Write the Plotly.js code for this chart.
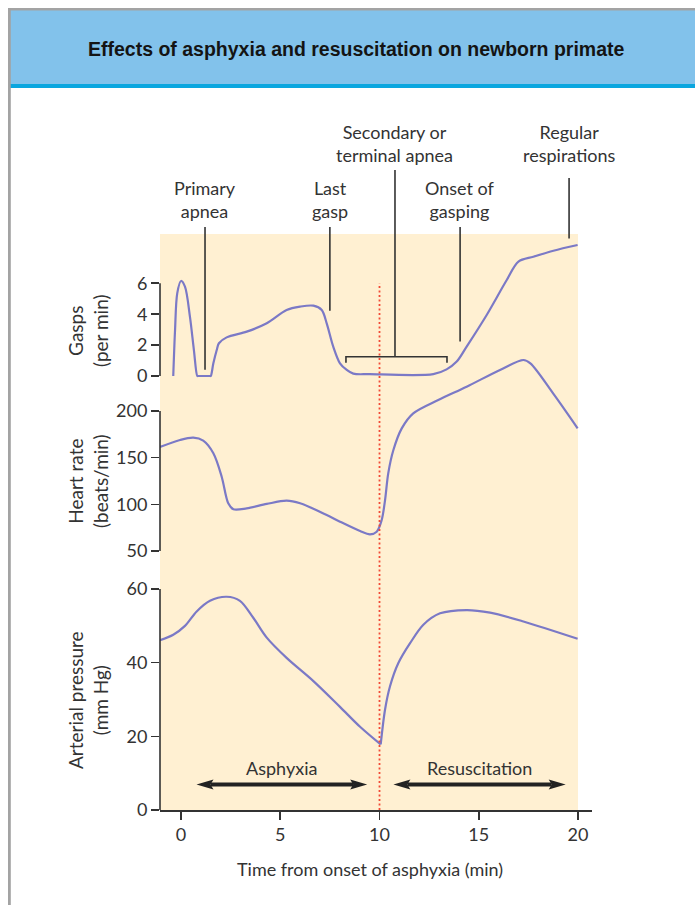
<!DOCTYPE html>
<html><head><meta charset="utf-8">
<script src="https://cdn.plot.ly/plotly-3.0.1.min.js"></script>
<style>html,body{margin:0;padding:0;background:#fff}#chart{width:695px;height:905px}</style>
</head><body><div id="chart"></div>
<script>
// ---------- data ----------
const timeTicks = [0, 5, 10, 15, 20];
const gaspTicks = [0, 2, 4, 6];
const hrTicks = [50, 100, 150, 200];
const bpTicks = [0, 20, 40, 60];

const gaspTime = [-0.39, -0.30, -0.19, 0.0, 0.2, 0.45, 0.65, 0.82, 0.86, 1.46, 1.5, 1.63, 1.8, 1.91, 2.3, 3.31, 4.32, 5.32, 6.0, 6.67, 7.09, 7.34, 7.67, 8.01, 8.35, 8.68, 9.5, 12.71, 13.38, 13.89, 14.39, 15.4, 16.41, 17.0, 17.75, 18.76, 19.98];
const gaspRate = [0, 2.98, 5.35, 6.15, 5.78, 3.84, 1.68, 0, 0, 0, 0, 0.82, 1.68, 2.12, 2.5, 2.87, 3.41, 4.27, 4.49, 4.55, 4.27, 3.41, 1.9, 0.82, 0.39, 0.15, 0.12, 0.12, 0.43, 0.93, 1.9, 3.95, 6.21, 7.4, 7.72, 8.11, 8.48];

const hrTime = [-1.06, -0.05, 0.62, 1.12, 1.63, 2.05, 2.38, 2.64, 3.31, 4.32, 5.32, 6.0, 7.34, 8.01, 9.02, 9.52, 9.86, 10.11, 10.28, 10.44, 10.7, 11.12, 11.7, 12.96, 14.39, 16.07, 17.25, 17.6, 18.8, 19.98];
const hrValue = [161.4, 168.9, 171.4, 168.2, 154.7, 129.6, 101.1, 94.7, 95.7, 100.4, 103.9, 101.1, 88.6, 81.4, 71.4, 67.9, 70.7, 83.2, 104.6, 133.2, 158.2, 181.4, 197.5, 211.8, 226, 244, 254.6, 251, 217.2, 181.4];

const bpTime = [-1.06, -0.39, 0.2, 0.79, 1.46, 2.3, 2.97, 3.64, 4.32, 5.32, 6.67, 8.01, 9.02, 10.06, 10.28, 10.53, 10.95, 11.54, 12.21, 13.05, 14.39, 15.57, 17.25, 19.98];
const bpValue = [46.1, 47.6, 50.0, 53.9, 56.8, 57.9, 56.8, 52.2, 46.8, 41.3, 35.0, 28.0, 22.6, 17.8, 27.3, 33.6, 39.9, 45.3, 50.3, 53.4, 54.3, 53.6, 51.2, 46.5];
const resuscitationStart = 10.06;

// callouts above the gasp panel (x in minutes, y in gasp units)
const calloutLabels = ['Primary<br>apnea', 'Last<br>gasp', 'Secondary or<br>terminal apnea', 'Onset of<br>gasping', 'Regular<br>respirations'];
const calloutX = [1.21, 7.5, 10.78, 14.06, 19.55];
const calloutTextY = [11.42, 11.42, 15.05, 11.42, 15.05];
const calloutTop = [9.64, 9.64, 13.33, 9.64, 12.82];
const calloutBottom = [0.4, 4.22, 1.25, 2.24, 8.9];
const bracketFrom = 8.31, bracketTo = 13.4, bracketY = 1.25, bracketEnd = 0.86;

const phaseLabels = ['Asphyxia', 'Resuscitation'];
const phaseFrom = [0.78, 10.7];
const phaseTo = [9.38, 19.38];

// ---------- layout geometry ----------
const W = 695, H = 905;
const M = {l: 160, r: 103, t: 234, b: 95};
const PW = W - M.l - M.r, PH = H - M.t - M.b;
const xRange = [-1.058, 20.705];
const gDom = [0.7257, 1], gRange = [-1.036, 9.19];
const hDom = [0.4132, 0.8160], hRange = [27.5, 276.07];
const bDom = [0, 0.4097], bRange = [0, 64.08];

const xp = v => (v - xRange[0]) / (xRange[1] - xRange[0]);
const yp = (v, dom, rng) => dom[0] + (v - rng[0]) / (rng[1] - rng[0]) * (dom[1] - dom[0]);
const gp = v => yp(v, gDom, gRange);
const hp = v => yp(v, hDom, hRange);
const bp = v => yp(v, bDom, bRange);
const pxX = px => (px - M.l) / PW;      // page pixel -> paper
const pxY = py => (H - M.b - py) / PH;

const TXT = '#333333';
const LINE = '#7B79C6';
const FONT = 'Lato, "Noto Sans", sans-serif';
const FS = 18;

const lineStyle = {color: LINE, width: 2.2, shape: 'spline', smoothing: 0.9};
const idxA = bpTime.map((t, i) => i).filter(i => bpTime[i] <= resuscitationStart);
const idxB = bpTime.map((t, i) => i).filter(i => bpTime[i] >= resuscitationStart);

const traces = [
  {x: gaspTime, y: gaspRate, xaxis: 'x', yaxis: 'y', mode: 'lines', line: lineStyle, hoverinfo: 'skip'},
  {x: hrTime, y: hrValue, xaxis: 'x', yaxis: 'y2', mode: 'lines', line: lineStyle, hoverinfo: 'skip'},
  {x: idxA.map(i => bpTime[i]), y: idxA.map(i => bpValue[i]), xaxis: 'x', yaxis: 'y3', mode: 'lines', line: lineStyle, hoverinfo: 'skip'},
  {x: idxB.map(i => bpTime[i]), y: idxB.map(i => bpValue[i]), xaxis: 'x', yaxis: 'y3', mode: 'lines', line: lineStyle, hoverinfo: 'skip'}
];

const shapes = [];
const annotations = [];
// page frame & header
shapes.push({type: 'rect', xref: 'paper', yref: 'paper', x0: pxX(10), x1: pxX(700), y0: pxY(84), y1: pxY(10), fillcolor: '#82C2EB', line: {width: 0}, layer: 'below'});
shapes.push({type: 'rect', xref: 'paper', yref: 'paper', x0: pxX(10), x1: pxX(700), y0: pxY(88), y1: pxY(84), fillcolor: '#0AA6DF', line: {width: 0}, layer: 'below'});
shapes.push({type: 'rect', xref: 'paper', yref: 'paper', x0: pxX(8), x1: pxX(700), y0: pxY(10.5), y1: pxY(8), fillcolor: '#A3A3A3', line: {width: 0}, layer: 'below'});
shapes.push({type: 'rect', xref: 'paper', yref: 'paper', x0: pxX(8), x1: pxX(10.8), y0: pxY(910), y1: pxY(8), fillcolor: '#A3A3A3', line: {width: 0}, layer: 'below'});
// cream panel
shapes.push({type: 'rect', xref: 'paper', yref: 'paper', x0: 0, x1: xp(20), y0: 0, y1: 1, fillcolor: '#FFF0D2', line: {width: 0}, layer: 'below'});
// y axis line segments
[[gp(gaspTicks[0]), gp(gaspTicks[gaspTicks.length - 1])], [hp(hrTicks[0]), hp(hrTicks[hrTicks.length - 1])], [bp(bpTicks[0]), bp(bpTicks[bpTicks.length - 1])]].forEach(s => {
  shapes.push({type: 'line', xref: 'paper', yref: 'paper', x0: 0, x1: 0, y0: s[0], y1: s[1], line: {color: TXT, width: 1.6}});
});
// red dotted line at start of resuscitation
shapes.push({type: 'line', xref: 'paper', yref: 'paper', x0: xp(10), x1: xp(10), y0: 0, y1: gp(6), line: {color: '#F24A36', width: 1.8, dash: '2px,2.5px'}});
// callouts
calloutLabels.forEach((t, i) => {
  shapes.push({type: 'line', xref: 'paper', yref: 'paper', x0: xp(calloutX[i]), x1: xp(calloutX[i]), y0: gp(calloutBottom[i]), y1: gp(calloutTop[i]), line: {color: TXT, width: 1.6}});
  annotations.push({xref: 'paper', yref: 'paper', x: xp(calloutX[i]), y: gp(calloutTextY[i]), text: t, showarrow: false, xanchor: 'center', yanchor: 'middle', font: {family: FONT, size: FS, color: TXT}});
});
shapes.push({type: 'path', xref: 'paper', yref: 'paper',
  path: `M${xp(bracketFrom)},${gp(bracketEnd)} L${xp(bracketFrom)},${gp(bracketY)} L${xp(bracketTo)},${gp(bracketY)} L${xp(bracketTo)},${gp(bracketEnd)}`,
  line: {color: TXT, width: 1.6}});
// phase arrows
const arrowY = pxY(784.5);
phaseLabels.forEach((t, i) => {
  const a = xp(phaseFrom[i]), b = xp(phaseTo[i]);
  const hl = 17 / PW, hh = 5 / PH, notch = 3 / PW;
  shapes.push({type: 'line', xref: 'paper', yref: 'paper', x0: a + hl - notch, x1: b - hl + notch, y0: arrowY, y1: arrowY, line: {color: '#222', width: 4}});
  shapes.push({type: 'path', xref: 'paper', yref: 'paper', fillcolor: '#222', line: {width: 0},
    path: `M${a},${arrowY} L${a + hl},${arrowY + hh} L${a + hl - notch},${arrowY} L${a + hl},${arrowY - hh} Z`});
  shapes.push({type: 'path', xref: 'paper', yref: 'paper', fillcolor: '#222', line: {width: 0},
    path: `M${b},${arrowY} L${b - hl},${arrowY + hh} L${b - hl + notch},${arrowY} L${b - hl},${arrowY - hh} Z`});
  annotations.push({xref: 'paper', yref: 'paper', x: (a + b) / 2, y: pxY(768), text: t, showarrow: false, xanchor: 'center', yanchor: 'middle', font: {family: FONT, size: FS, color: TXT}});
});
// header title
annotations.push({xref: 'paper', yref: 'paper', x: pxX(356), y: pxY(49), text: '<b>Effects of asphyxia and resuscitation on newborn primate</b>', showarrow: false, xanchor: 'center', yanchor: 'middle', font: {family: '"Liberation Sans", Arial, sans-serif', size: 19.5, color: '#141414'}});
// axis titles
annotations.push({xref: 'paper', yref: 'paper', x: pxX(370), y: pxY(869), text: 'Time from onset of asphyxia (min)', showarrow: false, xanchor: 'center', yanchor: 'middle', font: {family: FONT, size: FS, color: TXT}});
[['Gasps<br>(per min)', 331], ['Heart rate<br>(beats/min)', 481], ['Arterial pressure<br>(mm Hg)', 700]].forEach(d => {
  annotations.push({xref: 'paper', yref: 'paper', x: pxX(88), y: pxY(d[1]), text: d[0], showarrow: false, textangle: -90, xanchor: 'center', yanchor: 'middle', font: {family: FONT, size: 19, color: TXT}});
});

const yCommon = {anchor: 'x', showgrid: false, zeroline: false, showline: false, ticks: 'outside', ticklen: 8, tickwidth: 1.6, tickcolor: TXT, tickfont: {family: FONT, size: 18, color: TXT}, tickmode: 'array', fixedrange: true};

const layout = {
  width: W, height: H,
  margin: {l: M.l, r: M.r, t: M.t, b: M.b, pad: 0},
  paper_bgcolor: '#FFFFFF', plot_bgcolor: 'rgba(0,0,0,0)',
  showlegend: false,
  xaxis: {anchor: 'y3', range: xRange, tickmode: 'array', tickvals: timeTicks, ticktext: timeTicks.map(String), showgrid: false, zeroline: false, showline: true, linecolor: TXT, linewidth: 1.6, ticks: 'outside', ticklen: 8, tickwidth: 1.6, tickcolor: TXT, tickfont: {family: FONT, size: 18, color: TXT}, fixedrange: true},
  yaxis: Object.assign({}, yCommon, {domain: gDom, range: gRange, tickvals: gaspTicks, ticktext: gaspTicks.map(String)}),
  yaxis2: Object.assign({}, yCommon, {domain: hDom, range: hRange, tickvals: hrTicks, ticktext: hrTicks.map(String)}),
  yaxis3: Object.assign({}, yCommon, {domain: bDom, range: bRange, tickvals: bpTicks, ticktext: bpTicks.map(String)}),
  shapes: shapes,
  annotations: annotations
};

Plotly.newPlot('chart', traces, layout, {staticPlot: true, displayModeBar: false});
</script>
</body></html>
